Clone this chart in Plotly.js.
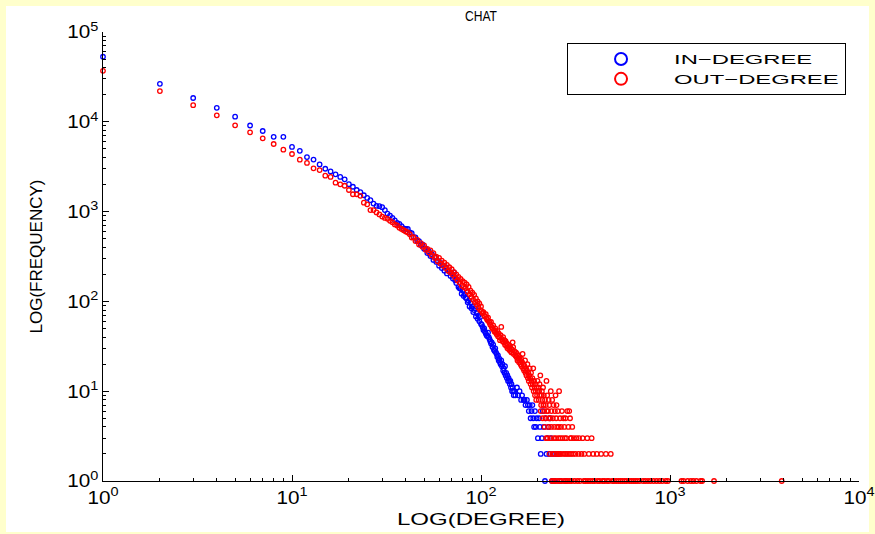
<!DOCTYPE html>
<html>
<head>
<meta charset="utf-8">
<script src="https://cdn.plot.ly/plotly-3.0.1.min.js"></script>
<style>
  html, body { margin: 0; padding: 0; background: #FFFFCC; width: 875px; height: 534px; overflow: hidden; }
  #chart { position: absolute; left: 6px; top: 6px; width: 863px; height: 526px; background: #fff; }
  #chart .main-svg { overflow: visible; }
</style>
</head>
<body>
<div id="chart"></div>
<script>
// ---- Data ----
const chartTitle = 'CHAT';
const seriesNames = ['IN\u2212DEGREE', 'OUT\u2212DEGREE'];
const xTickVals = [1, 10, 100, 1000, 10000];
const xTickText = ['10<sup>0</sup>', '10<sup>1</sup>', '10<sup>2</sup>', '10<sup>3</sup>', '10<sup>4</sup>'];
const yTickVals = [1, 10, 100, 1000, 10000, 100000];
const yTickText = ['10<sup>0</sup>', '10<sup>1</sup>', '10<sup>2</sup>', '10<sup>3</sup>', '10<sup>4</sup>', '10<sup>5</sup>'];

const inDegree = [
  1,2,3,4,5,6,7,8,9,10,11,12,13,14,15,16,17,18,19,20,
  21,22,23,24,25,26,27,28,29,30,31,32,33,34,35,36,37,38,39,40,
  41,42,43,44,45,46,47,48,49,50,51,52,53,54,55,56,57,58,59,60,
  61,62,63,64,65,66,67,68,69,70,71,72,73,74,75,76,77,78,79,80,
  81,82,83,84,85,86,87,88,89,90,91,92,93,94,95,96,97,98,99,100,
  101,102,103,104,105,106,107,108,109,110,111,112,113,114,115,116,117,118,119,120,
  121,122,123,124,125,126,127,128,129,130,131,132,133,134,135,136,137,138,139,140,
  141,142,143,144,145,146,147,148,149,
  150,152,155,157,160,163,165,168,170,172,175,177,179,181,183,185,187,189,191,193,
  195,197,200,203,205,207,210,212,215,218,220,222,225,228,230,232,235,238,240,245,
  250,255,262,280
];
const inFreq = [
  53000,26500,18400,14300,11400,9100,7900,6800,6800,5250,4750,4050,3800,3350,3000,2800,2600,2430,2290,2020,
  1890,1740,1650,1520,1420,1340,1230,1160,1150,1120,1040,950,900,850,800,750,730,690,650,640,
  640,585,575,520,515,470,470,425,430,385,390,345,360,320,335,290,310,275,285,250,
  268,235,252,220,240,205,222,215,192,205,180,210,172,160,175,145,140,138,122,132,
  115,120,110,108,98,102,88,96,84,88,76,80,84,68,74,64,70,60,67,56,
  55,52,48,50,46,44,42,41,45,40,38,36,34,35,31,33,29,28,30,27,
  26,24,25,22,23,21,20,22,19,20,17,18,16,19,15,16,14,15,13,14,
  13,12,13,11,12,10,11,10,9,
  10,9,11,9,10,8,9,8,8,7,8,7,6,7,5,6,7,5,4,6,
  4,5,3,5,4,2,3,6,4,1,5,2,3,4,2,5,3,1,2,1,
  2,2,1,1
];

const outDegree = [
  1,2,3,4,5,6,7,8,9,10,11,12,13,14,15,16,17,18,19,20,
  21,22,23,24,25,26,27,28,29,30,31,32,33,34,35,36,37,38,39,40,
  41,42,43,44,45,46,47,48,49,50,51,52,53,54,55,56,57,58,59,60,
  61,62,63,64,65,66,67,68,69,70,71,72,73,74,75,76,77,78,79,80,
  81,82,83,84,85,86,87,88,89,90,91,92,93,94,95,96,97,98,99,100,
  101,102,103,104,105,106,107,108,109,110,111,112,113,114,115,116,117,118,119,120,
  121,122,123,124,125,126,127,128,129,130,131,132,133,134,135,136,137,138,139,140,
  141,142,143,144,145,146,147,148,149,150,
  152,153,154,155,156,157,158,159,160,
  161,162,163,164,165,166,167,168,169,170,171,172,173,174,175,176,177,178,179,180,
  181,182,183,184,185,186,187,188,189,190,191,192,193,194,195,196,197,198,199,200,
  201,202,203,204,205,206,207,208,209,210,211,212,213,214,215,216,217,218,219,220,
  221,222,223,224,225,226,227,228,229,230,231,232,233,234,235,236,237,238,239,240,
  241,242,243,244,245,246,247,248,249,250,251,252,253,254,255,256,257,258,259,260,
  261,262,263,264,265,267,268,270,272,273,275,276,278,279,280,282,283,285,286,288,
  290,292,293,295,296,298,299,300,302,304,307,310,313,316,320,324,328,330,334,340,
  345,350,352,358,365,368,372,378,385,390,392,400,410,415,425,432,440,450,458,465,
  475,486,495,505,520,535,548,560,575,590,610,625,640,655,670,690,720,740,765,790,
  820,850,880,910,950,975,1150,1180,1240,1290,1330,1380,1450,1480,1710,3900
];
const outFreq = [
  37000,22000,15300,11800,9140,7640,6550,5660,4890,4380,3790,3480,3030,2900,2510,2430,2100,2015,1940,1740,
  1560,1560,1500,1256,1205,1040,1040,980,930,880,850,830,790,760,720,700,660,640,620,600,
  585,560,515,520,470,485,430,445,405,420,375,385,350,370,325,345,305,315,280,305,
  265,285,250,270,235,255,220,240,210,228,198,212,185,200,172,188,162,178,150,168,
  145,162,140,155,128,145,120,132,112,125,104,118,98,108,92,100,85,95,80,88,
  78,74,76,70,68,72,65,62,66,60,58,55,59,52,50,54,48,46,50,45,
  43,47,41,44,40,37,42,52,38,36,40,35,37,33,36,32,34,30,33,31,
  29,32,28,30,27,29,35,31,26,28,
  25,27,24,26,22,25,23,21,24,
  22,20,23,19,21,26,18,20,17,19,22,16,18,15,17,20,14,16,13,15,
  18,14,12,16,13,11,14,12,18,10,13,11,9,12,10,8,11,9,13,10,
  11,8,10,12,9,15,6,7,9,10,8,5,11,7,9,6,4,8,5,7,
  3,13,6,9,3,6,4,8,5,7,2,5,3,10,4,6,1,8,2,5,
  1,7,3,4,2,6,1,9,3,5,7,2,4,1,6,2,3,4,10,2,
  1,5,3,2,4,1,6,3,2,5,1,4,3,2,5,1,3,2,6,1,
  4,2,6,1,5,3,2,3,1,4,2,3,1,2,3,1,2,3,1,2,
  3,1,2,1,3,1,2,1,3,1,2,1,2,1,1,2,1,1,2,1,
  1,2,1,1,1,1,1,1,1,1,1,1,1,1,1,1,1,1,1,1,
  1,1,1,1,1,1,1,1,1,1,1,1,1,1,1,1
];

// ---- Minor tick positions (style only) ----
function minorLogTicks(maxPow) {
  const v = [];
  for (let p = 0; p < maxPow; p++) {
    for (let m = 2; m <= 9; m++) v.push(m * Math.pow(10, p));
  }
  return v;
}

const FONT = 'Liberation Sans, Arial, Helvetica, sans-serif';
const PAD = '\u00a0'.repeat(21); // widens the legend box to match the reference frame

const traces = [
  {
    type: 'scatter', mode: 'markers', name: seriesNames[0],
    x: inDegree, y: inFreq, cliponaxis: false,
    marker: { symbol: 'circle-open', size: 4.5, color: '#0000FF', line: { color: '#0000FF', width: 1.3 } }
  },
  {
    type: 'scatter', mode: 'markers', name: seriesNames[1] + PAD,
    x: outDegree, y: outFreq, cliponaxis: false,
    marker: { symbol: 'circle-open', size: 4.5, color: '#FF0000', line: { color: '#FF0000', width: 1.3 } }
  }
];

const axisCommon = {
  type: 'log', showline: true, linecolor: '#000', linewidth: 1, mirror: false,
  showgrid: false, zeroline: false, ticks: 'inside', ticklen: 6, tickwidth: 1, tickcolor: '#000',
  tickmode: 'array', ticklabeloverflow: 'allow',
  tickfont: { family: FONT, size: 18, color: '#000' }
};

const layout = {
  width: 863, height: 526,
  paper_bgcolor: '#FFFFFF', plot_bgcolor: '#FFFFFF',
  margin: { l: 97, r: 10, t: 26, b: 51 },
  font: { family: FONT, color: '#000' },
  title: { text: chartTitle, font: { family: FONT, size: 15, color: '#000' },
           x: 0.5, xref: 'paper', xanchor: 'center', y: 0.981, yref: 'container', yanchor: 'middle' },
  xaxis: Object.assign({}, axisCommon, {
    range: [0, 4], tickvals: xTickVals, ticktext: xTickText,
    minor: { tickmode: 'array', tickvals: minorLogTicks(4), ticks: 'inside', ticklen: 3, tickcolor: '#000', showgrid: false },
    title: { text: 'LOG(DEGREE)', font: { family: FONT, size: 16, color: '#000' }, standoff: 7 }
  }),
  yaxis: Object.assign({}, axisCommon, {
    range: [0, 5], tickvals: yTickVals, ticktext: yTickText,
    minor: { tickmode: 'array', tickvals: minorLogTicks(5), ticks: 'inside', ticklen: 3, tickcolor: '#000', showgrid: false },
    title: { text: 'LOG(FREQUENCY)', font: { family: FONT, size: 17, color: '#000' }, standoff: 24 }
  }),
  showlegend: true,
  legend: {
    x: 0.6138, y: 0.9755, xanchor: 'left', yanchor: 'top',
    bgcolor: '#FFFFFF', bordercolor: '#000', borderwidth: 1,
    font: { family: FONT, size: 13, color: '#000' },
    itemwidth: 96, itemsizing: 'constant', tracegroupgap: 0
  }
};

// Horizontal text in the reference is stretched sideways; reproduce that look.
function stretch(selector, k) {
  document.querySelectorAll(selector).forEach(function (el) {
    const L = el.getComputedTextLength();
    if (L > 0) {
      el.setAttribute('textLength', (L * k).toFixed(1));
      el.setAttribute('lengthAdjust', 'spacingAndGlyphs');
    }
  });
}

Plotly.newPlot('chart', traces, layout, { displayModeBar: false, staticPlot: true }).then(function () {
  stretch('#chart .legendtext', 1.83);
  stretch('#chart .xtitle', 1.5);
  stretch('#chart .xtick text', 1.15);
  stretch('#chart .ytick text', 1.15);
  document.querySelectorAll('#chart .gtitle').forEach(function (el) {
    el.style.fontSize = '15px';
    el.setAttribute('textLength', '32');
    el.setAttribute('lengthAdjust', 'spacingAndGlyphs');
  });
});
</script>
</body>
</html>
